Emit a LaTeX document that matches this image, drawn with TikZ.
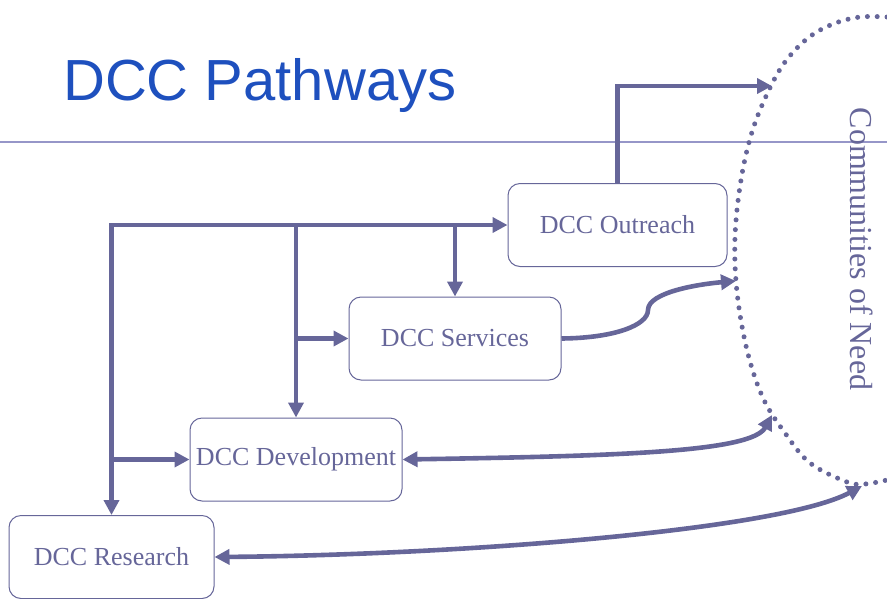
\documentclass[tikz,border=0pt]{standalone}
\usepackage{fontspec}
\setmainfont{Liberation Serif}
\newfontfamily\titlefont{Liberation Sans}
\usetikzlibrary{arrows.meta}
\definecolor{dccline}{RGB}{102,102,153}
\definecolor{dccrule}{RGB}{150,150,200}
\definecolor{dcctitle}{RGB}{30,80,190}
\begin{document}
\begin{tikzpicture}[x=1pt, y=-1pt, line join=miter,
  path box/.style={draw=dccline, line width=1pt, rounded corners=12pt, text=dccline, font=\fontsize{26}{28}\selectfont, minimum width=212pt, minimum height=83pt, inner sep=0pt},
  path arrow/.style={draw=dccline, line width=4.6pt, -{Triangle[length=15pt,width=15pt]}},
  both arrow/.style={draw=dccline, line width=4.6pt, {Triangle[length=15pt,width=15pt]}-{Triangle[length=15pt,width=15pt]}}]
\useasboundingbox (0,0) rectangle (887,598);
% title and rule
\node[anchor=base west, inner sep=0pt, text=dcctitle, font=\titlefont\fontsize{58}{60}\selectfont] (title) at (63,100) {DCC Pathways};
\draw[dccrule, line width=1.2pt] (0,142) -- (887,142);
% communities of need
\draw[dccline, line width=5pt, line cap=round, dash pattern=on 0pt off 9.8pt]
  plot[smooth, tension=0.6] coordinates {(887,17) (860,17) (833,24) (808,38) (785,62) (768,92) (752,132) (741,180) (735,237) (737,292) (747,350) (763,398) (785,433) (810,463) (847,482) (865,484) (887,480)};
\node[rotate=-90, text=dccline, font=\fontsize{32}{34}\selectfont, inner sep=0pt] (need) at (862,249) {Communities of Need};
% boxes
\begin{scope}
\node[path box, minimum width=219pt] (out) at (617.5,225) {DCC Outreach};
\node[path box] (svc) at (455,338.5) {DCC Services};
\node[path box] (dev) at (296,459.5) {DCC Development};
\node[path box, minimum width=205pt] (res) at (111.5,557) {DCC Research};
\end{scope}
\coordinate (cOut) at (772,86);
\coordinate (cSvc) at (736,281);
\coordinate (cDev) at (772,415);
\coordinate (cRes) at (862,486);
% connectors
\begin{scope}
\draw[both arrow] (res.north) |- (out.west);
\draw[path arrow] (dev.north |- out.west) -- (dev.north);
\draw[path arrow] (svc.north |- out.west) -- (svc.north);
\draw[path arrow] (dev.north |- svc.west) -- (svc.west);
\draw[path arrow] (res.north |- dev.west) -- (dev.west);
\draw[path arrow] (out.north) |- (cOut);
\draw[path arrow] (svc.east) .. controls (615,338) and (648,325) .. (648,310) .. controls (648,292) and (700,284) .. (cSvc);
\draw[both arrow] (dev.east) .. controls (620,456) and (752,452) .. (cDev);
\draw[both arrow] (res.east) .. controls (460,555) and (780,530) .. (cRes);
\end{scope}
\end{tikzpicture}
\end{document}
